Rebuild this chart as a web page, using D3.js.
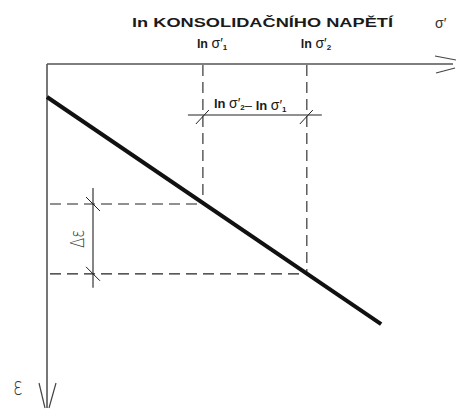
<!DOCTYPE html>
<html><head><meta charset="utf-8">
<script src="https://cdn.jsdelivr.net/npm/d3@7"></script>
<style>body{margin:0;background:#fff}svg{display:block}</style>
</head><body>
<svg id="c" width="456" height="410"></svg>
<script>
// Compression curve ε – ln σ′ (schematic)
const axisTitle = "ln KONSOLIDAČNÍHO NAPĚTÍ";
const stressSubs = ["1", "2"];          // σ′1, σ′2
const lnStress = [38.4, 64.0];          // ln σ′1, ln σ′2 (axis units)
const strainAt = [40.7, 61.0];          // ε at σ′1, σ′2 (axis units)
const curveX = [0, 82.3];               // straight compression line, x ends
const curveY = [9.6, 75.6];             // straight compression line, y ends

const svg = d3.select("#c");
const x = d3.scaleLinear().domain([0, 100]).range([47, 453]);
const y = d3.scaleLinear().domain([0, 100]).range([64, 408]);

const axisCol = "#555", dashCol = "#222", font = "Liberation Sans, Arial, sans-serif";

// axes
const x0 = x(0), y0 = y(0), xEnd = x.range()[1], yEnd = y.range()[1];
svg.append("line").attr("x1", x0).attr("y1", y0).attr("x2", xEnd).attr("y2", y0)
  .attr("stroke", axisCol).attr("stroke-width", 1.6);
svg.append("line").attr("x1", x0).attr("y1", y0).attr("x2", x0).attr("y2", yEnd)
  .attr("stroke", axisCol).attr("stroke-width", 1.6);

// open arrowheads
const arr = [
  [[xEnd - 18, y0 - 8], [xEnd + 3, y0 - 4]],
  [[xEnd - 17, y0 + 9], [xEnd + 2, y0 + 4]],
  [[x0 - 8, yEnd - 25], [x0 - 2, yEnd]],
  [[x0 + 9, yEnd - 25], [x0 + 2, yEnd]]
];
svg.selectAll("line.arr").data(arr).join("line").attr("class", "arr")
  .attr("x1", d => d[0][0]).attr("y1", d => d[0][1])
  .attr("x2", d => d[1][0]).attr("y2", d => d[1][1])
  .attr("stroke", "#444").attr("stroke-width", 1.2);

// dashed guides
const dash = "11,6";
lnStress.forEach((s, i) => {
  svg.append("line").attr("x1", x(s)).attr("y1", y0 + 1).attr("x2", x(s)).attr("y2", y(strainAt[i]))
    .attr("stroke", dashCol).attr("stroke-width", 1.1).attr("stroke-dasharray", dash);
  svg.append("line").attr("x1", x0 + 1).attr("y1", y(strainAt[i])).attr("x2", x(s)).attr("y2", y(strainAt[i]))
    .attr("stroke", dashCol).attr("stroke-width", 1.1).attr("stroke-dasharray", dash).attr("stroke-dashoffset", -2);
});

// compression line
svg.append("line")
  .attr("x1", x(curveX[0])).attr("y1", y(curveY[0]))
  .attr("x2", x(curveX[1])).attr("y2", y(curveY[1]))
  .attr("stroke", "#111").attr("stroke-width", 4).attr("stroke-linecap", "butt");

// horizontal dimension: ln σ′2 − ln σ′1
const dimY = 115;
svg.append("line").attr("x1", x(lnStress[0]) - 15).attr("x2", x(lnStress[1]) + 15)
  .attr("y1", dimY).attr("y2", dimY).attr("stroke", dashCol).attr("stroke-width", 1.1);
lnStress.forEach(s => {
  svg.append("line").attr("x1", x(s) - 7).attr("y1", dimY + 9).attr("x2", x(s) + 6).attr("y2", dimY - 5)
    .attr("stroke", "#222").attr("stroke-width", 1);
});

// vertical dimension: Δε
const dimX = 93;
svg.append("line").attr("x1", dimX).attr("x2", dimX)
  .attr("y1", y(strainAt[0]) - 16).attr("y2", y(strainAt[1]) + 14)
  .attr("stroke", dashCol).attr("stroke-width", 1.1);
strainAt.forEach(e => {
  svg.append("line").attr("x1", dimX - 7).attr("y1", y(e) - 7).attr("x2", dimX + 7).attr("y2", y(e) + 7)
    .attr("stroke", "#222").attr("stroke-width", 1);
});

// texts
svg.append("text").attr("x", 132).attr("y", 27).attr("font-family", font)
  .attr("font-weight", "bold").attr("font-size", 13.5).attr("fill", "#1a1a1a")
  .attr("textLength", 261).attr("lengthAdjust", "spacingAndGlyphs").text(axisTitle);
svg.append("text").attr("x", 435).attr("y", 28).attr("font-family", font)
  .attr("font-size", 14).attr("fill", "#333").text("σ′");

function sigmaLabel(g, sub) {
  g.append("tspan").attr("font-weight", "bold").text("ln ");
  g.append("tspan").attr("font-size", 14).text("σ′");
  g.append("tspan").attr("font-weight", "bold").attr("font-size", 8).attr("dy", 2).text(sub);
  g.append("tspan").attr("dy", -2).text("");
}
lnStress.forEach((s, i) => {
  const t = svg.append("text").attr("x", x(s) - 6).attr("y", 48).attr("font-family", font)
    .attr("font-size", 12.5).attr("fill", "#1a1a1a");
  sigmaLabel(t, stressSubs[i]);
});

const dl = svg.append("text").attr("x", x(lnStress[0]) + 11).attr("y", 108)
  .attr("font-family", font).attr("font-size", 13).attr("fill", "#1a1a1a");
sigmaLabel(dl, stressSubs[1]);
dl.append("tspan").text("– ");
sigmaLabel(dl, stressSubs[0]);

svg.append("text").attr("transform", `translate(84,${(y(strainAt[0]) + y(strainAt[1])) / 2}) rotate(-90) scale(1,1.25)`)
  .attr("text-anchor", "middle").attr("font-family", "DejaVu Sans, sans-serif")
  .attr("font-size", 15).attr("font-weight", 300).attr("fill", "#333").text("Δε");

svg.append("text").attr("transform", "translate(13,395) scale(1,1.35)")
  .attr("font-family", "DejaVu Sans, sans-serif")
  .attr("font-size", 18).attr("font-weight", 300).attr("fill", "#333").text("ε");
</script>
</body></html>
